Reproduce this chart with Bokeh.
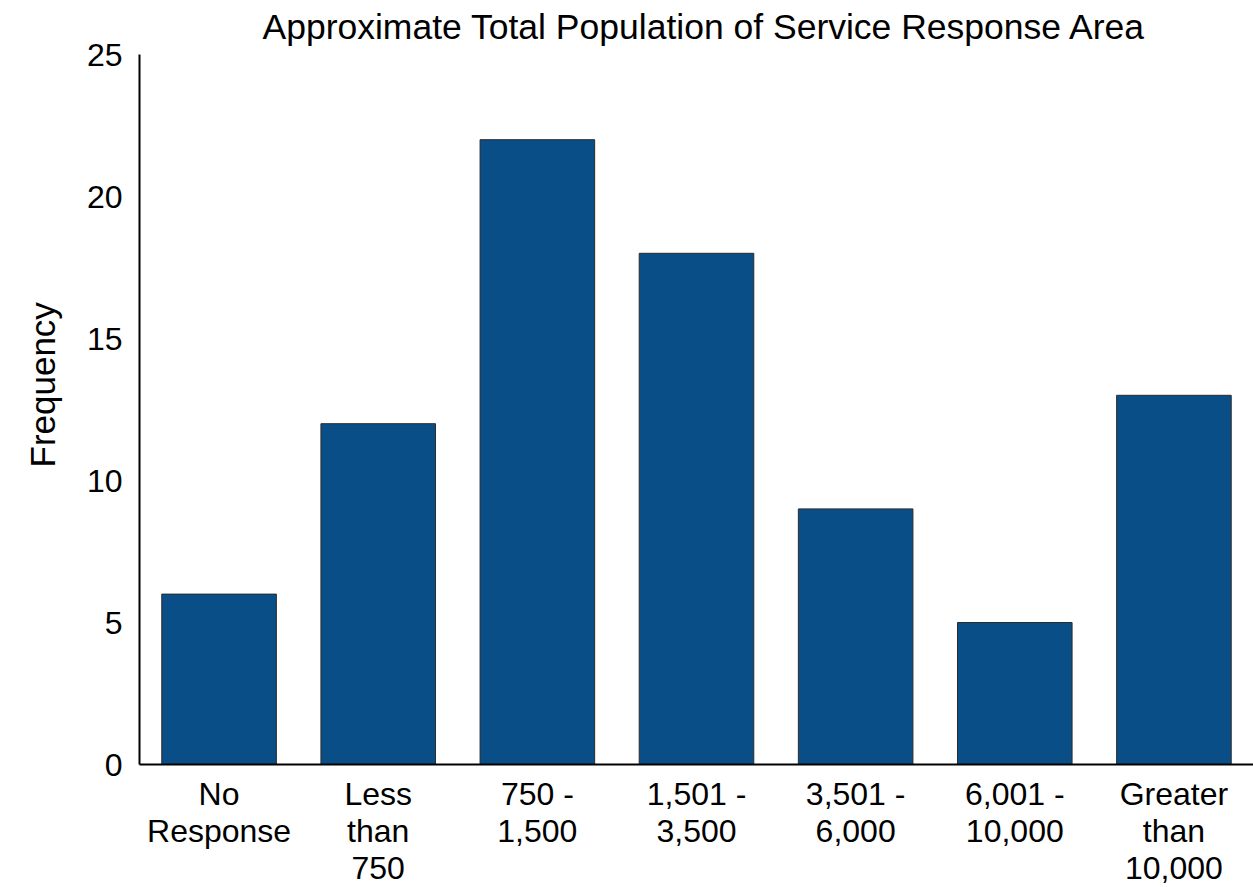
from bokeh.plotting import figure
from bokeh.models import Range1d, FixedTicker, Title
from bokeh.embed import file_html
from bokeh.resources import INLINE

# Survey responses by population band
categories = ["No\nResponse", "Less\nthan\n750", "750 -\n1,500", "1,501 -\n3,500",
              "3,501 -\n6,000", "6,001 -\n10,000", "Greater\nthan\n10,000"]
frequency = [6, 12, 22, 18, 9, 5, 13]
y_ticks = [0, 5, 10, 15, 20, 25]

FONT = "Liberation Sans"

p = figure(
    x_range=categories,
    y_range=Range1d(0, 25),
    width=1253, height=888,
    output_backend="svg",
    toolbar_location=None,
    title="Approximate Total Population of Service Response Area",
    min_border_left=139, min_border_right=0,
    min_border_top=54, min_border_bottom=124,
)
p.x_range.range_padding = 0

p.vbar(x=categories, top=frequency, width=0.72,
       fill_color="#0a4e88", line_color="#2b2b2b", line_width=1)

p.title.text_font = FONT
p.title.text_font_size = "35.5px"
p.title.text_font_style = "normal"
p.title.text_color = "black"
p.title.align = "left"
p.title.offset = 123
p.title.vertical_align = "top"
p.title.standoff = 12

p.grid.visible = False
p.outline_line_color = None

for ax in (p.xaxis[0], p.yaxis[0]):
    ax.axis_line_color = "black"
    ax.axis_line_width = 2
    ax.major_tick_line_color = None
    ax.minor_tick_line_color = None
    ax.major_tick_out = 0
    ax.major_tick_in = 0
    ax.major_label_text_font = FONT
    ax.major_label_text_font_size = "32px"
    ax.major_label_text_color = "black"

p.yaxis.ticker = FixedTicker(ticks=y_ticks)
p.yaxis.major_label_standoff = 17

# vertical "Frequency" label, placed a little above the middle of the y-axis
y_label = Title(text="Frequency", text_font=FONT, text_font_size="35px",
                text_font_style="normal", text_color="black",
                align="left", offset=297, vertical_align="top", standoff=40)
p.add_layout(y_label, "left")

p.xaxis.major_label_standoff = 11
p.xaxis.major_label_text_line_height = 1.03

open("out.html", "w").write(file_html(p, INLINE))
